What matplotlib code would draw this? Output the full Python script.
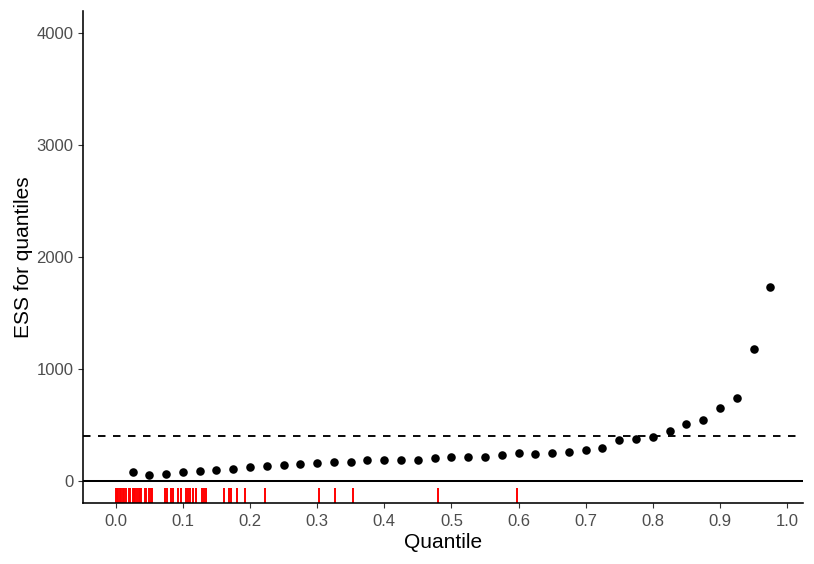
import matplotlib
matplotlib.use("Agg")
import matplotlib.pyplot as plt
import numpy as np

plt.rcParams['font.family'] = ['Liberation Sans', 'DejaVu Sans']

# Quantile probabilities and ESS estimates
quantiles = [0.025, 0.05, 0.075, 0.1, 0.125, 0.15, 0.175, 0.2, 0.225, 0.25,
             0.275, 0.3, 0.325, 0.35, 0.375, 0.4, 0.425, 0.45, 0.475, 0.5,
             0.525, 0.55, 0.575, 0.6, 0.625, 0.65, 0.675, 0.7, 0.725, 0.75,
             0.775, 0.8, 0.825, 0.85, 0.875, 0.9, 0.925, 0.95, 0.975]
ess = [74, 47, 62, 74, 89, 95, 107, 119, 128, 137,
       146, 158, 170, 170, 187, 187, 187, 187, 202, 214,
       208, 214, 232, 244, 235, 250, 259, 274, 289, 360,
       375, 387, 446, 509, 539, 646, 744, 1176, 1732]

# Rug positions (quantile of observed values)
rug = [0.0, 0.002, 0.004, 0.006, 0.008, 0.011, 0.013, 0.016, 0.019, 0.021,
       0.025, 0.027, 0.029, 0.031, 0.034, 0.036, 0.038, 0.043, 0.045, 0.049,
       0.052, 0.054,
       0.073, 0.076, 0.082, 0.085, 0.093, 0.097, 0.105, 0.108, 0.111, 0.115,
       0.119, 0.129, 0.132, 0.135, 0.161, 0.168, 0.172, 0.181, 0.193, 0.223,
       0.303, 0.327, 0.353, 0.480, 0.597]

threshold = 400
xticks = [0.0, 0.1, 0.2, 0.3, 0.4, 0.5, 0.6, 0.7, 0.8, 0.9, 1.0]
yticks = [0, 1000, 2000, 3000, 4000]

fig = plt.figure(figsize=(8.14, 5.64), dpi=100)
ax = fig.add_axes([0.102, 0.108, 0.8845, 0.8725])

ax.axhline(0, color='black', lw=1.45, zorder=1)
ax.axhline(threshold, color='black', lw=1.35, ls=(0, (4, 4)), zorder=1)
ax.scatter(quantiles, ess, s=38, color='black', zorder=3, linewidths=0)
ax.vlines(rug, 0, 0.03, transform=ax.get_xaxis_transform(), color='red', lw=1.4, zorder=2)

ax.set_xlim(-0.04875, 1.02375)
ax.set_ylim(-200, 4200)
ax.set_xticks(xticks)
ax.set_xticklabels([f"{v:.1f}" for v in xticks])
ax.set_yticks(yticks)

for s in ['top', 'right']:
    ax.spines[s].set_visible(False)
for s in ['left', 'bottom']:
    ax.spines[s].set_linewidth(1.15)
ax.tick_params(axis='both', colors='#333333', labelcolor='#4D4D4D', labelsize=12,
               length=3.5, width=0.8)
ax.tick_params(axis='x', pad=4.5)
ax.tick_params(axis='y', pad=3.5)
ax.set_xlabel('Quantile', fontsize=15, labelpad=3)
ax.set_ylabel('ESS for quantiles', fontsize=15, labelpad=2.5)

fig.savefig('out.png', dpi=100)
